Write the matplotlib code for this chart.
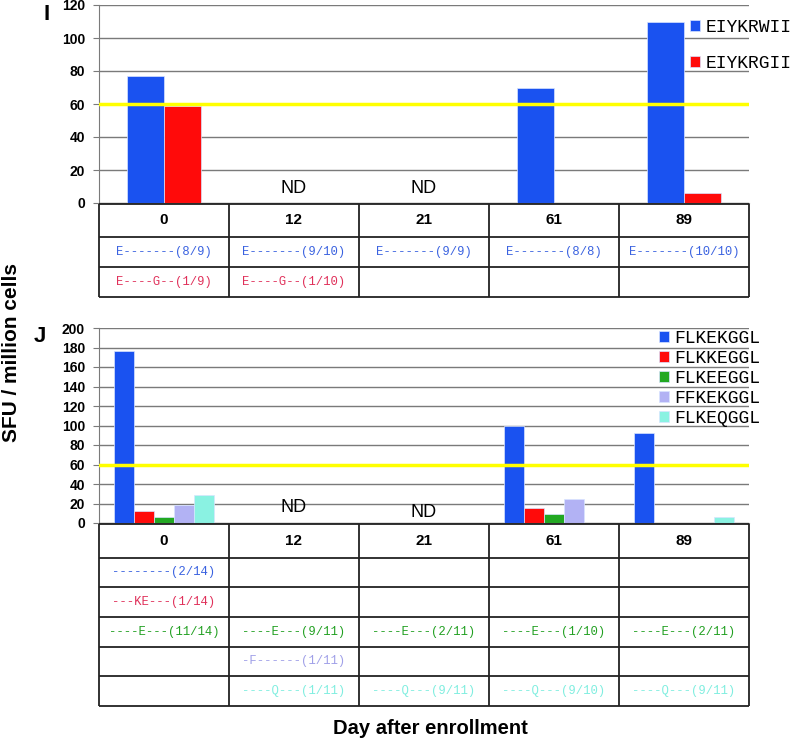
import numpy as np
import matplotlib.pyplot as plt

plt.rcParams['font.family'] = ['Liberation Sans', 'DejaVu Sans']

# Data
days = ["0", "12", "21", "61", "89"]
threshold = 60

i_labels = ["EIYKRWII", "EIYKRGII"]
i_values = [
    [77, np.nan, np.nan, 70, 110],
    [59, np.nan, np.nan, 0, 6],
]
i_nd_days = [1, 2]
i_nd_y = [9, 9]
i_rows = [
    ["E-------(8/9)", "E-------(9/10)", "E-------(9/9)", "E-------(8/8)", "E-------(10/10)"],
    ["E----G--(1/9)", "E----G--(1/10)", "", "", ""],
]

j_labels = ["FLKEKGGL", "FLKKEGGL", "FLKEEGGL", "FFKEKGGL", "FLKEQGGL"]
j_values = [
    [176, np.nan, np.nan, 100, 92],
    [12, np.nan, np.nan, 15, 0],
    [6, np.nan, np.nan, 9, 0],
    [18, np.nan, np.nan, 25, 0],
    [29, np.nan, np.nan, 0, 6],
]
j_nd_days = [1, 2]
j_nd_y = [16, 11]
j_rows = [
    ["--------(2/14)", "", "", "", ""],
    ["---KE---(1/14)", "", "", "", ""],
    ["----E---(11/14)", "----E---(9/11)", "----E---(2/11)", "----E---(1/10)", "----E---(2/11)"],
    ["", "-F------(1/11)", "", "", ""],
    ["", "----Q---(1/11)", "----Q---(9/11)", "----Q---(9/10)", "----Q---(9/11)"],
]

bar_colors = ["#1a52f0", "#ff0a0a", "#22a822", "#b2b2f4", "#8af2e2"]
text_colors = ["#3a62e0", "#e0305a", "#22a022", "#a0a0e8", "#80eee0"]

W, H = 792, 742
fig = plt.figure(figsize=(W / 100, H / 100), dpi=100)


def px_axes(x0, y0, x1, y1):
    return fig.add_axes([x0 / W, 1 - y1 / H, (x1 - x0) / W, (y1 - y0) / H])


def bar_panel(ax, values, labels, width, ymax, step, nd_days, nd_y):
    x = np.arange(len(days))
    n = len(values)
    handles = []
    for k, vals in enumerate(values):
        off = (k - (n - 1) / 2) * width
        b = ax.bar(x + off, vals, width, color=bar_colors[k], zorder=2,
                   edgecolor="#d8e4ff", linewidth=0.5)
        handles.append(b)
    ax.axhline(threshold, color="#ffff00", lw=2.5, zorder=3)
    ax.set_xlim(-0.5, len(days) - 0.5)
    ax.set_ylim(0, ymax)
    ax.set_yticks(np.arange(0, ymax + 1, step))
    ax.yaxis.grid(True, color="#7a7a7a", lw=1)
    ax.set_axisbelow(True)
    ax.set_xticks([])
    for s in ["top", "right"]:
        ax.spines[s].set_visible(False)
    for s in ["left", "bottom"]:
        ax.spines[s].set_color("#7a7a7a")
    ax.tick_params(axis="y", length=4, color="#7a7a7a", labelsize=10, pad=6)
    for t in ax.get_yticklabels():
        t.set_fontweight("bold")
    for d, yy in zip(nd_days, nd_y):
        ax.text(d, yy, "ND", ha="center", va="center", fontsize=13)
    return handles


def table_panel(ax, rows, header_h):
    n = len(rows)
    total = header_h + n
    ax.set_xlim(-0.5, len(days) - 0.5)
    ax.set_ylim(total, 0)
    ax.axis("off")
    ys = [0, header_h] + [header_h + k + 1 for k in range(n)]
    ax.hlines(ys, -0.5, len(days) - 0.5, color="#222222", lw=1.3, clip_on=False)
    ax.vlines(np.arange(-0.5, len(days)), 0, total, color="#222222", lw=1.3, clip_on=False)
    for xi, d in enumerate(days):
        ax.text(xi, header_h / 2, d, ha="center", va="center",
                fontweight="bold", fontsize=11)
    for r, row in enumerate(rows):
        for xi, s in enumerate(row):
            if s:
                ax.text(xi, header_h + r + 0.5, s, ha="center", va="center",
                        fontsize=8.8, family="Liberation Mono", color=text_colors[r])


# Panel I
axI = px_axes(99, 5, 749, 203)
hI = bar_panel(axI, i_values, i_labels, 0.285, 120, 20, i_nd_days, i_nd_y)
axI.legend(hI, i_labels, loc="upper left", bbox_to_anchor=(690 / W, 1 - 19 / H),
           bbox_transform=fig.transFigure, frameon=False,
           prop=dict(family="Liberation Mono", size=13),
           handlelength=0.55, handleheight=0.55, handletextpad=0.3,
           borderaxespad=0, borderpad=0, labelspacing=1.05)
tI = px_axes(99, 204, 749, 297)
table_panel(tI, i_rows, 1.1)

# Panel J
axJ = px_axes(99, 328, 749, 523)
hJ = bar_panel(axJ, j_values, j_labels, 0.154, 200, 20, j_nd_days, j_nd_y)
axJ.legend(hJ, j_labels, loc="upper left", bbox_to_anchor=(659 / W, 1 - 330 / H),
           bbox_transform=fig.transFigure, frameon=False,
           prop=dict(family="Liberation Mono", size=13),
           handlelength=0.55, handleheight=0.55, handletextpad=0.3,
           borderaxespad=0, borderpad=0, labelspacing=0.17)
tJ = px_axes(99, 524, 749, 706)
table_panel(tJ, j_rows, 1.13)

# Labels
fig.text(47 / W, 1 - 14 / H, "I", fontsize=16, fontweight="bold", ha="center", va="center")
fig.text(40 / W, 1 - 336 / H, "J", fontsize=16, fontweight="bold", ha="center", va="center")
fig.text(12 / W, 1 - 352 / H, "SFU / million cells", rotation=90, fontsize=15,
         fontweight="bold", ha="center", va="center")
fig.text(430 / W, 1 - 729 / H, "Day after enrollment", fontsize=14.5,
         fontweight="bold", ha="center", va="center")

fig.savefig("out.png", dpi=100)
